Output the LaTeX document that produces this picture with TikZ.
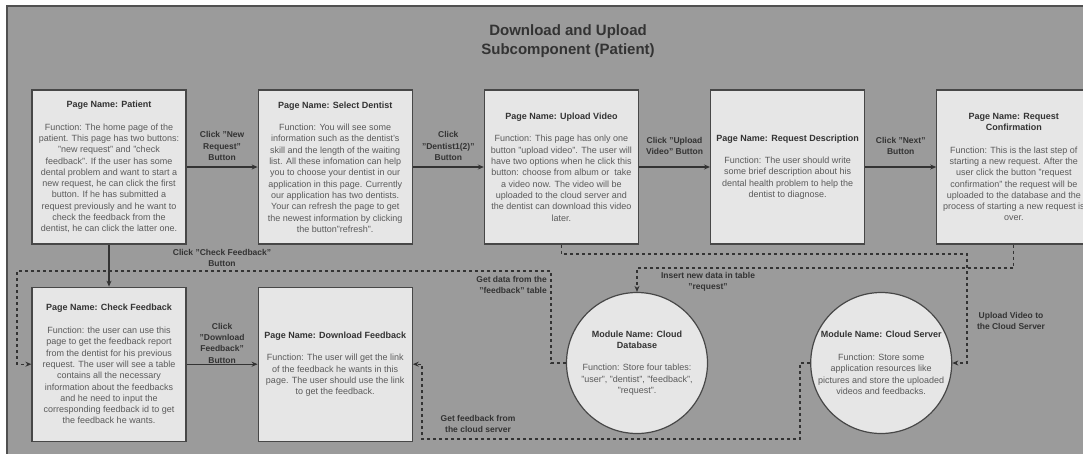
\documentclass[tikz,border=0pt]{standalone}
\usepackage{fontspec}
\setmainfont{Liberation Sans}
\usepackage{xcolor}
\usepackage{tikz}
\usetikzlibrary{arrows.meta,positioning}

\definecolor{bggray}{HTML}{9B9B9B}
\definecolor{framegray}{HTML}{505050}
\definecolor{boxfill}{HTML}{E6E6E6}
\definecolor{boxline}{HTML}{474747}
\definecolor{headtext}{HTML}{333333}
\definecolor{bodytext}{HTML}{5A5A5A}
\definecolor{wire}{HTML}{333333}

\newcommand{\pagehead}[1]{\textcolor{headtext}{\bfseries #1}}

\begin{document}
\begin{tikzpicture}[
  x=1pt, y=-1pt,
  node distance=71pt,
  pagebox/.style={rectangle, draw=boxline, line width=1.2pt, fill=boxfill, minimum width=154pt, minimum height=154pt, align=center, inner sep=2pt, text=bodytext, font=\fontsize{9}{11.3}\selectfont},
  modcircle/.style={circle, draw=boxline, line width=1.2pt, fill=boxfill, minimum size=141pt, align=center, inner sep=0pt, text=bodytext, font=\fontsize{9}{11.3}\selectfont},
  lbl/.style={align=center, text=headtext, font=\bfseries\fontsize{8.5}{11.3}\selectfont, inner sep=0pt},
  flow/.style={draw=wire, line width=1.1pt, -{Stealth[length=6pt,width=5pt]}},
  dflow/.style={flow, dash pattern=on 3pt off 3pt}
]
  \useasboundingbox (0,0) rectangle (1083,453);
  \fill[white] (0,0) rectangle (1083,453);
  \filldraw[fill=bggray, draw=framegray, line width=1.5pt] (7,6) rectangle (1100,470);

  \node[font=\bfseries\fontsize{15}{19}\selectfont, text=headtext, align=center] (title) at (568,41)
    {Download and Upload\\Subcomponent (Patient)};

  % upper row of pages
  \node[pagebox] (patient) at (109,167) {\pagehead{Page Name: Patient}\\[11.3pt]
    Function: The home page of the\\
    patient. This page has two buttons:\\
    "new request" and "check\\
    feedback". If the user has some\\
    dental problem and want to start a\\
    new request, he can click the first\\
    button. If he has submitted a\\
    request previously and he want to\\
    check the feedback from the\\
    dentist, he can click the latter one.};
  \node[pagebox, right=of patient] (select) {\pagehead{Page Name: Select Dentist}\\[11.3pt]
    Function: You will see some\\
    information such as the dentist's\\
    skill and the length of the waiting\\
    list. All these infomation can help\\
    you to choose your dentist in our\\
    application in this page. Currently\\
    our application has two dentists.\\
    Your can refresh the page to get\\
    the newest information by clicking\\
    the button"refresh".};
  \node[pagebox, right=of select] (upload) {\pagehead{Page Name: Upload Video}\\[11.3pt]
    Function: This page has only one\\
    button "upload video". The user will\\
    have two options when he click this\\
    button: choose from album or\ \ take\\
    a video now. The video will be\\
    uploaded to the cloud server and\\
    the dentist can download this video\\
    later.};
  \node[pagebox, right=of upload] (reqdesc) {\pagehead{Page Name: Request Description}\\[11.3pt]
    Function: The user should write\\
    some brief description about his\\
    dental health problem to help the\\
    dentist to diagnose.};
  \node[pagebox, right=of reqdesc] (confirm) {\pagehead{Page Name: Request}\\\pagehead{Confirmation}\\[11.3pt]
    Function: This is the last step of\\
    starting a new request. After the\\
    user click the button "request\\
    confirmation" the request will be\\
    uploaded to the database and the\\
    process of starting a new request is\\
    over.};

  % lower row
  \node[pagebox, below=42pt of patient] (check) {\pagehead{Page Name: Check Feedback}\\[11.3pt]
    Function: the user can use this\\
    page to get the feedback report\\
    from the dentist for his previous\\
    request. The user will see a table\\
    contains all the necessary\\
    information about the feedbacks\\
    and he need to input the\\
    corresponding feedback id to get\\
    the feedback he wants.};
  \node[pagebox, right=of check] (download) {\pagehead{Page Name: Download Feedback}\\[11.3pt]
    Function: The user will get the link\\
    of the feedback he wants in this\\
    page. The user should use the link\\
    to get the feedback.};

  % modules
  \node[modcircle] (db) at (637,363) {\pagehead{Module Name: Cloud}\\\pagehead{Database}\\[11.3pt]
    Function: Store four tables:\\
    "user", "dentist", "feedback",\\
    "request".};
  \node[modcircle, right=102pt of db] (server) {\pagehead{Module Name: Cloud Server}\\[11.3pt]
    Function: Store some\\
    application resources like\\
    pictures and store the uploaded\\
    videos and feedbacks.};

  % button clicks
  \draw[flow] (patient) -- node[lbl, yshift=21pt] (lblnew) {Click "New\\Request"\\Button} (select);
  \draw[flow] (select) -- node[lbl, yshift=21pt] (lbldentist) {Click\\"Dentist1(2)"\\Button} (upload);
  \draw[flow] (upload) -- node[lbl, yshift=21pt] (lblupload) {Click "Upload\\Video" Button} (reqdesc);
  \draw[flow] (reqdesc) -- node[lbl, yshift=21pt] (lblnext) {Click "Next"\\Button} (confirm);
  \draw[flow] (patient) -- node[lbl, pos=0.31, xshift=113pt] (lblcheck) {Click "Check Feedback"\\Button} (check);
  \draw[flow] (check) -- node[lbl, yshift=21pt] (lbldown) {Click\\"Download\\Feedback"\\Button} (download);

  % data flows
  \draw[dflow] (upload.south) |- (967,254) |- (server.east);
  \draw[dflow] (confirm.south) |- (637,268) -- (db.north);
  \draw[dflow] (db.west) -- (551,363) |- (17,271) |- (check.west);
  \draw[dflow] (server.west) -- (800,363) |- (422,439) |- (download.east);

  \node[lbl] (lblinsert) at (708,282) {Insert new data in table\\"request"};
  \node[lbl, anchor=east, align=right] (lblgetdata) at (547,285) {Get data from the\\"feedback" table};
  \node[lbl] (lblgetfb) at (478,424) {Get feedback from\\the cloud server};
  \node[lbl] (lblvideo) at (1011,321) {Upload Video to\\the Cloud Server};
\end{tikzpicture}
\end{document}
